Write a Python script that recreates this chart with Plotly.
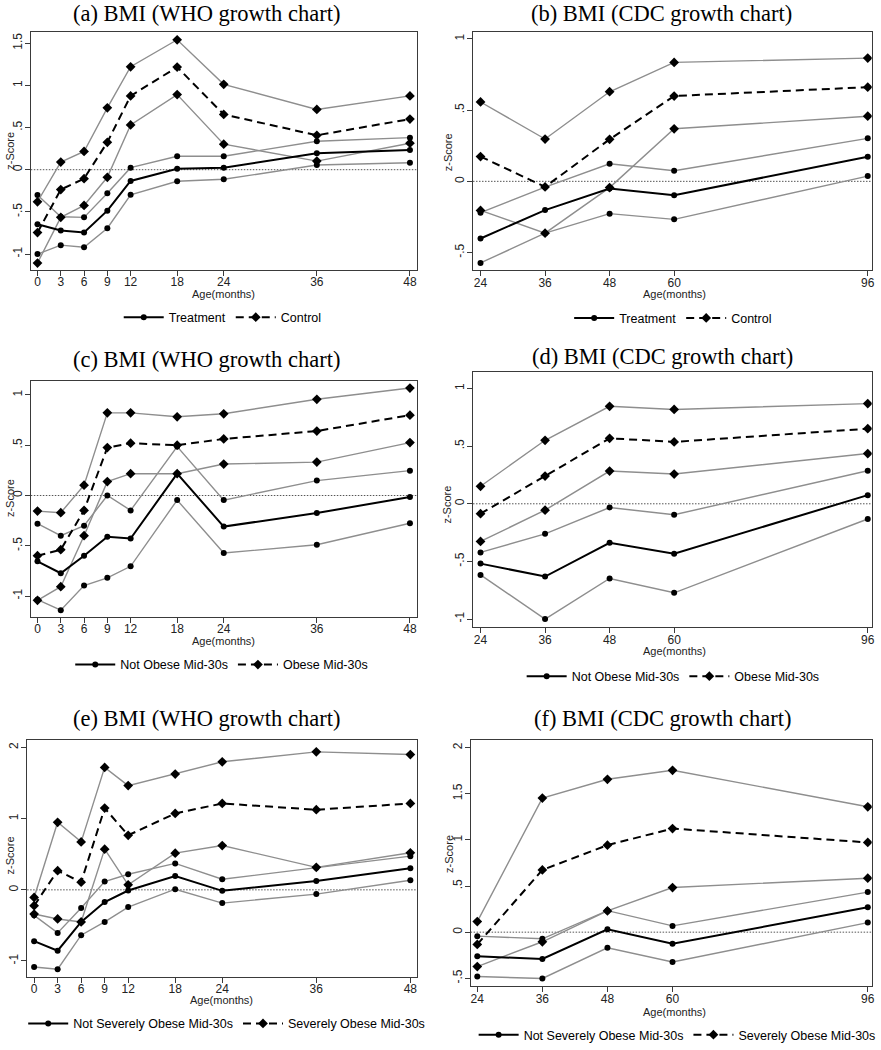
import plotly.graph_objects as go

W, H = 881, 1050

# ------------------------- data -------------------------
age_who = [0, 3, 6, 9, 12, 18, 24, 36, 48]
age_cdc = [24, 36, 48, 60, 96]

# (a) WHO, Treatment vs Control
a_treat_mean = [-0.647, -0.72, -0.745, -0.486, -0.133, 0.012, 0.024, 0.196, 0.235]
a_treat_hi = [-0.30, -0.557, -0.565, -0.28, 0.024, 0.16, 0.16, 0.337, 0.38]
a_treat_lo = [-1.0, -0.894, -0.92, -0.694, -0.298, -0.137, -0.114, 0.055, 0.082]
a_ctrl_mean = [-0.745, -0.235, -0.106, 0.325, 0.875, 1.216, 0.655, 0.408, 0.6]
a_ctrl_hi = [-0.38, 0.09, 0.216, 0.733, 1.22, 1.54, 1.012, 0.714, 0.875]
a_ctrl_lo = [-1.106, -0.565, -0.424, -0.09, 0.53, 0.89, 0.302, 0.102, 0.314]

# (b) CDC, Treatment vs Control
b_treat_mean = [-0.401, -0.202, -0.051, -0.097, 0.172]
b_treat_hi = [-0.22, -0.04, 0.123, 0.074, 0.302]
b_treat_lo = [-0.573, -0.364, -0.227, -0.267, 0.037]
b_ctrl_mean = [0.174, -0.039, 0.295, 0.599, 0.661]
b_ctrl_hi = [0.557, 0.297, 0.629, 0.835, 0.865]
b_ctrl_lo = [-0.204, -0.364, -0.044, 0.369, 0.457]

# (c) WHO, Not Obese vs Obese Mid-30s
c_no_mean = [-0.655, -0.773, -0.599, -0.411, -0.428, 0.217, -0.309, -0.174, -0.016]
c_no_hi = [-0.28, -0.40, -0.30, 0.0, -0.148, 0.487, -0.046, 0.148, 0.247]
c_no_lo = [-1.036, -1.141, -0.895, -0.819, -0.704, -0.046, -0.572, -0.49, -0.276]
c_ob_mean = [-0.599, -0.539, -0.148, 0.477, 0.52, 0.5, 0.5625, 0.641, 0.799]
c_ob_hi = [-0.155, -0.171, 0.102, 0.822, 0.822, 0.783, 0.8125, 0.957, 1.069]
c_ob_lo = [-1.043, -0.907, -0.40, 0.138, 0.217, 0.217, 0.3125, 0.332, 0.526]

# (d) CDC, Not Obese vs Obese Mid-30s
d_no_mean = [-0.519, -0.631, -0.339, -0.433, 0.075]
d_no_hi = [-0.422, -0.261, -0.032, -0.095, 0.287]
d_no_lo = [-0.617, -1.0, -0.648, -0.772, -0.132]
d_ob_mean = [-0.086, 0.241, 0.568, 0.537, 0.651]
d_ob_hi = [0.152, 0.551, 0.846, 0.818, 0.869]
d_ob_lo = [-0.327, -0.055, 0.284, 0.258, 0.436]

# (e) WHO, Not Severely Obese vs Severely Obese Mid-30s
e_ns_mean = [-0.721, -0.856, -0.451, -0.172, -0.009, 0.195, -0.014, 0.126, 0.302]
e_ns_hi = [-0.358, -0.605, -0.256, 0.116, 0.219, 0.372, 0.149, 0.312, 0.474]
e_ns_lo = [-1.084, -1.116, -0.637, -0.451, -0.242, 0.009, -0.186, -0.06, 0.135]
e_sv_mean = [-0.223, 0.27, 0.107, 1.149, 0.767, 1.074, 1.214, 1.126, 1.214]
e_sv_hi = [-0.107, 0.949, 0.674, 1.721, 1.465, 1.628, 1.8, 1.94, 1.902]
e_sv_lo = [-0.34, -0.409, -0.451, 0.572, 0.07, 0.516, 0.623, 0.316, 0.521]

# (f) CDC, Not Severely Obese vs Severely Obese Mid-30s
f_ns_mean = [-0.262, -0.291, 0.032, -0.126, 0.269]
f_ns_hi = [-0.043, -0.072, 0.233, 0.068, 0.434]
f_ns_lo = [-0.481, -0.502, -0.169, -0.323, 0.104]
f_sv_mean = [-0.133, 0.674, 0.943, 1.123, 0.972]
f_sv_hi = [0.115, 1.453, 1.657, 1.754, 1.359]
f_sv_lo = [-0.373, -0.104, 0.23, 0.484, 0.585]

# tick labels
who_xticks = [0, 3, 6, 9, 12, 18, 24, 36, 48]
cdc_xticks = [24, 36, 48, 60, 96]
a_yticks = [-1, -0.5, 0, 0.5, 1, 1.5]
a_yticktext = ["-1", "-.5", "0", ".5", "1", "1.5"]
b_yticks = [-0.5, 0, 0.5, 1]
b_yticktext = ["-.5", "0", ".5", "1"]
cd_yticks = [-1, -0.5, 0, 0.5, 1]
cd_yticktext = ["-1", "-.5", "0", ".5", "1"]
e_yticks = [-1, 0, 1, 2]
e_yticktext = ["-1", "0", "1", "2"]
f_yticks = [-0.5, 0, 0.5, 1, 1.5, 2]
f_yticktext = ["-.5", "0", ".5", "1", "1.5", "2"]

titles = ["(a) BMI (WHO growth chart)", "(b) BMI (CDC growth chart)",
          "(c) BMI (WHO growth chart)", "(d) BMI (CDC growth chart)",
          "(e) BMI (WHO growth chart)", "(f) BMI (CDC growth chart)"]
group_names = [("Treatment", "Control"), ("Treatment", "Control"),
               ("Not Obese Mid-30s", "Obese Mid-30s"), ("Not Obese Mid-30s", "Obese Mid-30s"),
               ("Not Severely Obese Mid-30s", "Severely Obese Mid-30s"),
               ("Not Severely Obese Mid-30s", "Severely Obese Mid-30s")]
x_label = "Age(months)"
y_label = "z-Score"

# ------------------------- layout (pixels) -------------------------
def fx(p):
    return p / W

def fy(p):
    return 1 - p / H

panels = [
    dict(x=age_who, s=(a_treat_mean, a_treat_hi, a_treat_lo, a_ctrl_mean, a_ctrl_hi, a_ctrl_lo),
         box=(31, 32, 419, 272), xr=[-0.86, 48.86], yr=[-1.188, 1.635],
         xt=who_xticks, yt=a_yticks, ytt=a_yticktext,
         tpos=(208, 13.5), xl=(225, 296), yl=(10, 152), leg=(224, 320)),
    dict(x=age_cdc, s=(b_treat_mean, b_treat_hi, b_treat_lo, b_ctrl_mean, b_ctrl_hi, b_ctrl_lo),
         box=(475.7, 32.3, 876.7, 272.3), xr=[22.6, 96.74], yr=[-0.624, 1.048],
         xt=cdc_xticks, yt=b_yticks, ytt=b_yticktext,
         tpos=(665, 13.5), xl=(678, 296), yl=(450, 153), leg=(677, 320.7)),
    dict(x=age_who, s=(c_no_mean, c_no_hi, c_no_lo, c_ob_mean, c_ob_hi, c_ob_lo),
         box=(31, 384.3, 419, 621.7), xr=[-0.86, 48.86], yr=[-1.208, 1.135],
         xt=who_xticks, yt=cd_yticks, ytt=cd_yticktext,
         tpos=(208, 362), xl=(225, 646), yl=(10, 502), leg=(223, 670)),
    dict(x=age_cdc, s=(d_no_mean, d_no_hi, d_no_lo, d_ob_mean, d_ob_hi, d_ob_lo),
         box=(475.7, 375, 876.7, 632.3), xr=[22.6, 96.74], yr=[-1.073, 1.142],
         xt=cdc_xticks, yt=cd_yticks, ytt=cd_yticktext,
         tpos=(666, 359), xl=(678, 656), yl=(450, 508), leg=(677, 681.7)),
    dict(x=age_who, s=(e_ns_mean, e_ns_hi, e_ns_lo, e_sv_mean, e_sv_hi, e_sv_lo),
         box=(27.3, 745.7, 419, 984), xr=[-0.89, 48.8], yr=[-1.218, 2.106],
         xt=who_xticks, yt=e_yticks, ytt=e_yticktext,
         tpos=(208, 724), xl=(223, 1008), yl=(10, 862), leg=(228, 1031.7)),
    dict(x=age_cdc, s=(f_ns_mean, f_ns_hi, f_ns_lo, f_sv_mean, f_sv_hi, f_sv_lo),
         box=(473.3, 746, 876.7, 994), xr=[22.77, 96.73], yr=[-0.588, 2.079],
         xt=cdc_xticks, yt=f_yticks, ytt=f_yticktext,
         tpos=(666, 724), xl=(678, 1019.5), yl=(452, 860), leg=(681, 1043)),
]

SANS = "Liberation Sans, Arial, sans-serif"
SERIF = "Liberation Serif, Times New Roman, serif"
CI_COLOR = "#8e8e8e"
AX_COLOR = "#3a3a3a"

fig = go.Figure()
layout = dict(width=W, height=H, margin=dict(l=0, r=0, t=0, b=0),
              paper_bgcolor="white", plot_bgcolor="white", showlegend=True)
annotations = []
shapes = []

for i, p in enumerate(panels):
    k = i + 1
    xa = "x" if k == 1 else f"x{k}"
    ya = "y" if k == 1 else f"y{k}"
    lg = "legend" if k == 1 else f"legend{k}"
    m1, h1, l1, m2, h2, l2 = p["s"]
    n1, n2 = group_names[i]
    # confidence-interval lines
    for arr, sym, sz in ((h1, "circle", 6), (l1, "circle", 6), (h2, "diamond", 7.5), (l2, "diamond", 7.5)):
        fig.add_trace(go.Scatter(x=p["x"], y=arr, mode="lines+markers", xaxis=xa, yaxis=ya,
                                 line=dict(color=CI_COLOR, width=1.4),
                                 marker=dict(symbol=sym, size=sz, color="black"),
                                 showlegend=False, hoverinfo="skip", legend=lg))
    fig.add_trace(go.Scatter(x=p["x"], y=m1, mode="lines+markers", xaxis=xa, yaxis=ya, name=n1,
                             line=dict(color="black", width=2),
                             marker=dict(symbol="circle", size=6, color="black"), legend=lg))
    fig.add_trace(go.Scatter(x=p["x"], y=m2, mode="lines+markers", xaxis=xa, yaxis=ya, name=n2,
                             line=dict(color="black", width=2, dash="8px,5px"),
                             marker=dict(symbol="diamond", size=7.5, color="black"), legend=lg))

    l, t, r, b = p["box"]
    axname_x = "xaxis" if k == 1 else f"xaxis{k}"
    axname_y = "yaxis" if k == 1 else f"yaxis{k}"
    layout[axname_x] = dict(domain=[fx(l), fx(r)], anchor=ya, range=p["xr"],
                            tickmode="array", tickvals=p["xt"], ticktext=[str(v) for v in p["xt"]],
                            showline=True, mirror=True, linecolor=AX_COLOR, linewidth=1,
                            ticks="outside", ticklen=5, tickcolor=AX_COLOR, tickwidth=1,
                            ticklabelstandoff=-4,
                            showgrid=False, zeroline=False,
                            tickfont=dict(family=SANS, size=12, color="#222"))
    layout[axname_y] = dict(domain=[fy(b), fy(t)], anchor=xa, range=p["yr"],
                            tickmode="array", tickvals=p["yt"], ticktext=p["ytt"], tickangle=-90,
                            showline=True, mirror=True, linecolor=AX_COLOR, linewidth=1,
                            ticks="outside", ticklen=5, tickcolor=AX_COLOR, tickwidth=1,
                            ticklabelstandoff=-2,
                            showgrid=False, zeroline=False,
                            tickfont=dict(family=SANS, size=12, color="#222"))
    shapes.append(dict(type="line", xref=f"{xa} domain", yref=ya, x0=0, x1=1, y0=0, y1=0,
                       line=dict(color="#555", width=1, dash="1.5px,1.5px"), layer="below"))
    annotations.append(dict(text=titles[i], x=fx(p["tpos"][0]), y=fy(p["tpos"][1]),
                            xref="paper", yref="paper", xanchor="center", yanchor="middle",
                            showarrow=False, font=dict(family=SERIF, size=22.5, color="black")))
    annotations.append(dict(text=x_label, x=fx(p["xl"][0]), y=fy(p["xl"][1]),
                            xref="paper", yref="paper", xanchor="center", yanchor="middle",
                            showarrow=False, font=dict(family=SANS, size=11, color="#222")))
    annotations.append(dict(text=y_label, x=fx(p["yl"][0]), y=fy(p["yl"][1]), textangle=-90,
                            xref="paper", yref="paper", xanchor="center", yanchor="middle",
                            showarrow=False, font=dict(family=SANS, size=11, color="#222")))
    layout[lg] = dict(orientation="h", x=fx(p["leg"][0]), y=fy(p["leg"][1]),
                      xanchor="center", yanchor="middle", bgcolor="rgba(0,0,0,0)",
                      font=dict(family=SANS, size=12.5, color="black"),
                      itemwidth=40, tracegroupgap=0)

layout["annotations"] = annotations
layout["shapes"] = shapes
fig.update_layout(**layout)
fig.write_html("out.html", config={"displayModeBar": False},
               post_script="document.body.style.margin='0px';")
